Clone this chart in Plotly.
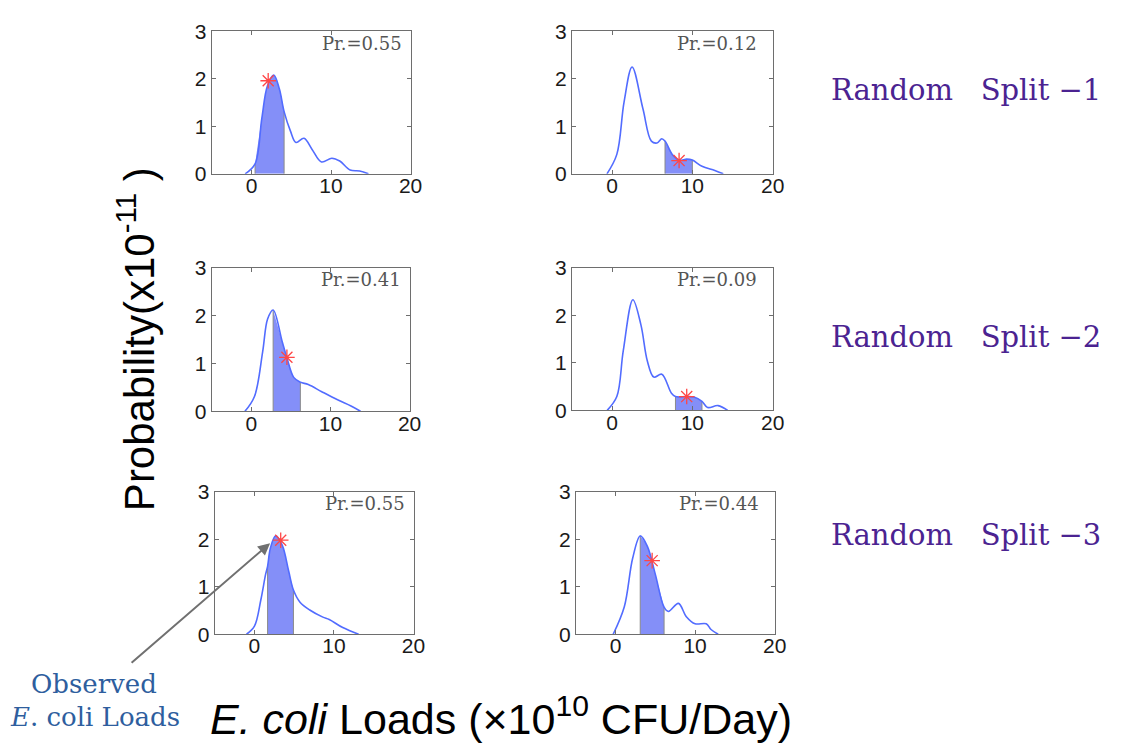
import plotly.graph_objects as go

# ---------------- data ----------------
# Panel order: row1-left, row1-right, row2-left, row2-right, row3-left, row3-right
p1_x = [-0.8, 0.45, 1.3, 2.0, 2.8, 3.5, 4.1, 4.9, 5.6, 6.6, 7.6, 8.8, 10.1, 11.1, 12.4, 13.6, 14.7]
p1_y = [0.0, 0.21, 1.17, 1.85, 2.08, 1.79, 1.31, 0.9, 0.66, 0.75, 0.52, 0.25, 0.33, 0.27, 0.08, 0.06, 0.0]
p1_shade = [0.45, 4.1]
p1_obs = [2.1, 1.96]

p2_x = [-0.63, 0.6, 1.5, 2.5, 3.85, 4.9, 5.6, 6.2, 6.6, 7.5, 8.35, 9.3, 10.0, 11.2, 12.8, 13.85]
p2_y = [0.0, 0.41, 1.51, 2.25, 1.37, 0.69, 0.65, 0.74, 0.69, 0.41, 0.29, 0.31, 0.29, 0.16, 0.07, 0.0]
p2_shade = [6.6, 10.0]
p2_obs = [8.35, 0.28]

p3_x = [-0.8, 0.4, 1.44, 2.06, 2.76, 3.9, 4.5, 5.36, 6.2, 7.2, 8.9, 10.9, 12.6, 13.8]
p3_y = [0.0, 0.31, 1.25, 1.93, 2.12, 1.46, 1.12, 0.71, 0.61, 0.56, 0.41, 0.24, 0.11, 0.0]
p3_shade = [2.76, 6.2]
p3_obs = [4.5, 1.13]

p4_x = [-0.6, 0.6, 1.4, 2.6, 3.6, 4.4, 5.2, 6.2, 7.4, 7.9, 9.3, 10.2, 11.2, 11.9, 13.2, 14.4]
p4_y = [0.0, 0.29, 1.25, 2.33, 1.8, 1.04, 0.7, 0.76, 0.36, 0.29, 0.29, 0.28, 0.19, 0.06, 0.1, 0.0]
p4_shade = [7.9, 11.2]
p4_obs = [9.3, 0.29]

p5_x = [-1.0, 0.0, 0.8, 1.4, 1.65, 2.0, 2.65, 3.5, 4.3, 4.9, 5.7, 6.95, 8.6, 9.4, 11.1, 13.1]
p5_y = [0.0, 0.17, 0.72, 1.26, 1.43, 1.81, 2.07, 1.87, 1.33, 0.93, 0.68, 0.51, 0.36, 0.31, 0.14, 0.0]
p5_shade = [1.65, 4.9]
p5_obs = [3.3, 1.98]

p6_x = [-0.3, 1.1, 2.15, 3.1, 4.0, 5.0, 6.1, 6.65, 7.9, 8.9, 10.0, 11.4, 12.0, 12.9]
p6_y = [0.0, 0.58, 1.6, 2.07, 1.85, 1.26, 0.57, 0.48, 0.65, 0.37, 0.22, 0.22, 0.1, 0.0]
p6_shade = [3.1, 6.1]
p6_obs = [4.6, 1.55]

pr_labels = ["Pr.=0.55", "Pr.=0.12", "Pr.=0.41", "Pr.=0.09", "Pr.=0.55", "Pr.=0.44"]
split_labels = ["Random\u00a0\u00a0\u00a0Split \u22121",
                "Random\u00a0\u00a0\u00a0Split \u22122",
                "Random\u00a0\u00a0\u00a0Split \u22123"]
x_ticks = [0, 10, 20]
y_ticks = [0, 1, 2, 3]
x_range = [-5, 20]
y_range = [0, 3]

panels = [
    (p1_x, p1_y, p1_shade, p1_obs),
    (p2_x, p2_y, p2_shade, p2_obs),
    (p3_x, p3_y, p3_shade, p3_obs),
    (p4_x, p4_y, p4_shade, p4_obs),
    (p5_x, p5_y, p5_shade, p5_obs),
    (p6_x, p6_y, p6_shade, p6_obs),
]

# ---------------- layout geometry (pixels) ----------------
W, H = 1125, 747
boxes = [  # (left, right, top, bottom) in pixels
    (214, 415, 20, 167), (578, 781, 20, 167),
    (214, 414, 264, 412), (578, 781, 264, 411),
    (217, 418, 495, 642), (582, 783, 495, 642),
]

CURVE = "rgb(82,108,255)"
FILL = "rgb(132,143,248)"
STAR = "rgb(255,70,70)"
AX = "#6e6e6e"
SANS = "Liberation Sans, Arial, sans-serif"
SERIF = "DejaVu Serif, serif"

fig = go.Figure()
layout = dict(
    width=W, height=H, margin=dict(l=0, r=0, t=0, b=0),
    paper_bgcolor="white", plot_bgcolor="white", showlegend=False,
)
annotations = []

for i, ((xs, ys, shade, obs), box) in enumerate(zip(panels, boxes)):
    n = i + 1
    xa = "x" if n == 1 else f"x{n}"
    ya = "y" if n == 1 else f"y{n}"
    lo, hi = shade
    i0, i1 = xs.index(lo), xs.index(hi)
    sx, sy = xs[i0:i1 + 1], ys[i0:i1 + 1]
    # shaded area
    fig.add_trace(go.Scatter(x=sx, y=sy, mode="lines", fill="tozeroy",
                             fillcolor=FILL, line=dict(width=0, shape="spline", color=FILL),
                             xaxis=xa, yaxis=ya, hoverinfo="skip"))
    # gray edges of the shaded area
    fig.add_trace(go.Scatter(x=[lo, lo, None, hi, hi], y=[0, ys[i0], None, 0, ys[i1]],
                             mode="lines", line=dict(color="#8a8a8a", width=1),
                             xaxis=xa, yaxis=ya, hoverinfo="skip"))
    # density curve
    fig.add_trace(go.Scatter(x=xs, y=ys, mode="lines",
                             line=dict(color=CURVE, width=1.6, shape="spline"),
                             xaxis=xa, yaxis=ya))
    # observed value
    fig.add_trace(go.Scatter(x=[obs[0]], y=[obs[1]], mode="markers",
                             marker=dict(symbol="asterisk-open", size=13, color=STAR,
                                         line=dict(color=STAR, width=1.3)),
                             xaxis=xa, yaxis=ya))
    l, r, t, b = box
    axis_common = dict(showline=True, linecolor=AX, linewidth=1, mirror="ticks",
                       ticks="inside", ticklen=4, tickcolor=AX, showgrid=False,
                       zeroline=False, tickfont=dict(family=SANS, size=21, color="#1a1a1a"),
                       fixedrange=True)
    layout[f"xaxis{'' if n == 1 else n}"] = dict(
        domain=[l / W, r / W], range=x_range, tickvals=x_ticks, anchor=ya,
        ticklabelstandoff=-7, **axis_common)
    layout[f"yaxis{'' if n == 1 else n}"] = dict(
        domain=[1 - b / H, 1 - t / H], range=y_range, tickvals=y_ticks, anchor=xa, **axis_common)
    annotations.append(dict(
        text=pr_labels[i], xref=f"{xa} domain", yref=f"{ya} domain", x=1, y=1,
        xanchor="right", yanchor="middle", xshift=-7 if n % 2 == 1 else -14, yshift=-12,
        showarrow=False, font=dict(family=SERIF, size=18, color="#555555")))

# Random split labels
for lab, yc in zip(split_labels, [80, 335, 540]):
    annotations.append(dict(text=lab, xref="paper", yref="paper", x=838 / W, y=1 - yc / H,
                            xanchor="left", yanchor="middle", showarrow=False,
                            font=dict(family=SERIF, size=29, color="rgb(75,35,145)")))

# axis titles
annotations.append(dict(text="Probability(x10<sup>-11</sup> )", xref="paper", yref="paper",
                        x=137 / W, y=1 - 338 / H, textangle=-90, showarrow=False,
                        xanchor="center", yanchor="middle",
                        font=dict(family=SANS, size=42, color="black")))
annotations.append(dict(text="<i>E. coli</i> Loads (\u00d710<sup>10</sup> CFU/Day)", xref="paper",
                        yref="paper", x=506 / W, y=1 - 726 / H, showarrow=False,
                        xanchor="center", yanchor="middle",
                        font=dict(family=SANS, size=43, color="black")))

# Observed annotation
annotations.append(dict(text="Observed", xref="paper", yref="paper", x=95 / W, y=1 - 693 / H,
                        showarrow=False, xanchor="center", yanchor="middle",
                        font=dict(family=SERIF, size=26, color="rgb(46,94,158)")))
annotations.append(dict(text="<i>E</i>. coli Loads", xref="paper", yref="paper", x=96 / W,
                        y=1 - 727 / H, showarrow=False, xanchor="center", yanchor="middle",
                        font=dict(family=SERIF, size=26, color="rgb(46,94,158)")))
annotations.append(dict(text="", xref="paper", yref="paper", x=273 / W, y=1 - 548 / H,
                        ax=-140, ay=121, axref="pixel", ayref="pixel", showarrow=True,
                        arrowhead=2, arrowsize=1.2, arrowwidth=2, arrowcolor="#707070"))

layout["annotations"] = annotations
fig.update_layout(**layout)
fig.write_html("out.html")
